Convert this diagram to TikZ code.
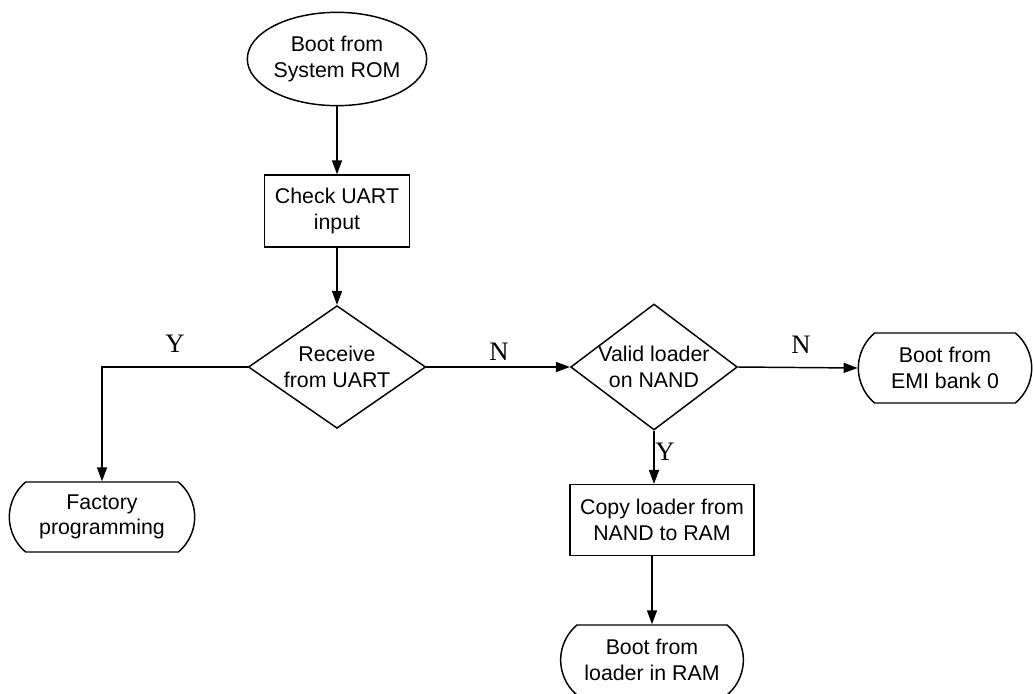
\documentclass[tikz,border=0pt]{standalone}
\usepackage{fontspec}
\setmainfont{Liberation Sans}
\newfontfamily\ynfont{Liberation Serif}
\usetikzlibrary{shapes.geometric,shapes.misc,arrows.meta}
\tikzset{
	startnode/.style={draw, ellipse, inner sep=0pt, align=center, minimum width=128pt, minimum height=70pt},
	stepbox/.style={draw, rectangle, inner sep=0pt, align=center, minimum height=53pt},
	decision/.style={draw, diamond, inner sep=0pt, align=center},
	endnode/.style={draw, rounded rectangle, rounded rectangle arc length=100, inner sep=0pt, align=center, minimum height=52.5pt},
	answer/.style={font=\ynfont\fontsize{20}{24}\selectfont},
}

\begin{document}
\begin{tikzpicture}[x=0.75pt, y=-0.75pt, line width=1.1pt, font=\fontsize{16}{19}\selectfont, >={Triangle[length=10.5pt,width=7.5pt]}]
\useasboundingbox (0,0) rectangle (1034,693);
% boxes
\node[startnode] (rom) at (337,59) {Boot from\\System ROM};
\node[stepbox, minimum width=109pt, minimum height=54pt] (uart) at (337,211) {Check UART\\input};
\node[decision, shape aspect=1.44, minimum width=133pt, minimum height=92pt] (recv) at (337,367) {Receive\\from UART};
\node[endnode, minimum width=139pt] (factory) at (102,517) {Factory\\programming};
\node[decision, shape aspect=1.33, minimum width=125pt, minimum height=94.5pt] (valid) at (654,367) {Valid loader\\on NAND};
\node[endnode, minimum width=130pt] (emi) at (945,368) {Boot from\\EMI bank 0};
\node[stepbox, minimum width=138pt] (copy) at (662,520) {Copy loader from\\NAND to RAM};
\node[endnode, minimum width=137pt] (ram) at (652,660) {Boot from\\loader in RAM};
% arrows
\draw[->] (rom) -- (uart);
\draw[->] (uart) -- (recv);
\draw[->] (recv.west) -| (factory.north);
\draw[->] (recv.east) -- (valid.west);
\draw[->] (valid.east) -- (emi.west);
\draw[->] (valid.south) -- (valid.south |- copy.north);
\draw[->] (ram.north |- copy.south) -- (ram.north);
% answers
\node[answer] (y1) at (175,344) {Y};
\node[answer] (n1) at (499,352) {N};
\node[answer] (n2) at (801,345) {N};
\node[answer] (y2) at (665,452) {Y};
\end{tikzpicture}
\end{document}
